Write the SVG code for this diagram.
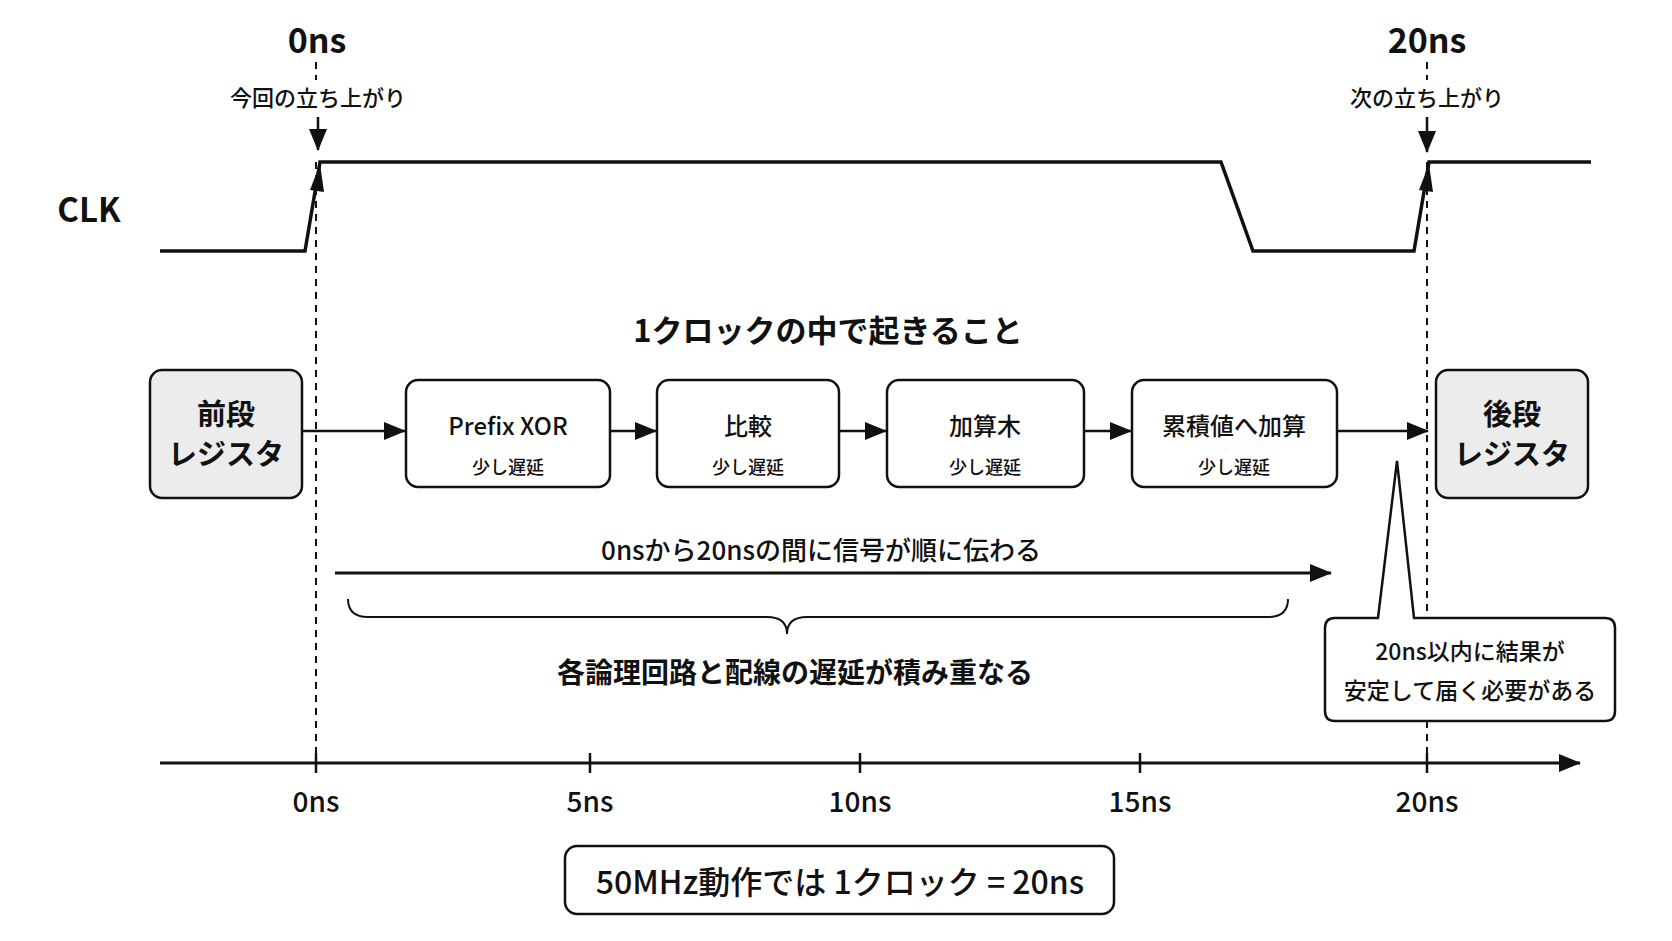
<svg xmlns="http://www.w3.org/2000/svg" width="1672" height="941" viewBox="0 0 1672 941">
<style>
text{font-family:"Noto Sans CJK JP","Noto Sans",sans-serif;fill:#111;text-anchor:middle;dominant-baseline:central;font-weight:500}
.b{font-weight:700}
.box{fill:#fff;stroke:#111;stroke-width:2.5}
.reg{fill:#ececec;stroke:#111;stroke-width:2.5}
.ln{stroke:#111;stroke-width:3.5;fill:none}
.dash{stroke:#111;stroke-width:2;stroke-dasharray:7,6;fill:none}
</style>
<defs>
<marker id="ahs" markerWidth="22" markerHeight="18" refX="21" refY="9" orient="auto" markerUnits="userSpaceOnUse" viewBox="0 0 22 18"><path d="M0,0L22,9L0,18z" fill="#111"/></marker>
</defs>
<rect width="1672" height="941" fill="#fff"/>
<g id="connectors">
<line class="dash" x1="316" y1="62" x2="316" y2="80"/>
<line class="dash" x1="316" y1="162" x2="316" y2="757"/>
<line class="dash" x1="1427" y1="62" x2="1427" y2="80"/>
<line class="dash" x1="1427" y1="162" x2="1427" y2="757"/>
<polyline class="ln" points="160,251 305,251 320,162 1221,162 1253,251 1414,251 1429,162 1591,162"/>
<path d="M310,190 L320,164 L324,192z" fill="#111"/>
<path d="M1419,190 L1429,164 L1433,192z" fill="#111"/>
<line class="ln" x1="318" y1="117" x2="318" y2="150" marker-end="url(#ahs)" style="stroke-width:2.5"/>
<line class="ln" x1="1427" y1="117" x2="1427" y2="152" marker-end="url(#ahs)" style="stroke-width:2.5"/>
<line class="ln" x1="302" y1="431" x2="405" y2="431" marker-end="url(#ahs)" style="stroke-width:2.5"/>
<line class="ln" x1="610" y1="431" x2="656" y2="431" marker-end="url(#ahs)" style="stroke-width:2.5"/>
<line class="ln" x1="839" y1="431" x2="886" y2="431" marker-end="url(#ahs)" style="stroke-width:2.5"/>
<line class="ln" x1="1084" y1="431" x2="1131" y2="431" marker-end="url(#ahs)" style="stroke-width:2.5"/>
<line class="ln" x1="1337" y1="431" x2="1428" y2="431" marker-end="url(#ahs)" style="stroke-width:2.5"/>
<line class="ln" x1="335" y1="573" x2="1331" y2="573" marker-end="url(#ahs)" style="stroke-width:3"/>
<path class="ln" style="stroke-width:2" d="M348,599 Q348,617 368,617 L767,617 Q787,617 787,634 Q787,617 807,617 L1268,617 Q1288,617 1288,599"/>
<line class="ln" x1="160" y1="763" x2="1580" y2="763" marker-end="url(#ahs)" style="stroke-width:3"/>
<g class="ln" style="stroke-width:2.5"><line x1="316" y1="753" x2="316" y2="773"/><line x1="590" y1="753" x2="590" y2="773"/><line x1="860" y1="753" x2="860" y2="773"/><line x1="1140" y1="753" x2="1140" y2="773"/><line x1="1427" y1="753" x2="1427" y2="773"/></g>
</g>
<text class="b" x="317" y="38" font-size="34">0ns</text>
<text class="b" x="1427" y="38" font-size="34">20ns</text>
<text x="318" y="96" font-size="22">今回の立ち上がり</text>
<text x="1427" y="96" font-size="22">次の立ち上がり</text>
<text class="b" x="89" y="208" font-size="33">CLK</text>
<text class="b" x="828" y="328" font-size="31">1クロックの中で起きること</text>
<g id="n_pre"><rect class="reg" x="150" y="370" width="152" height="128" rx="12"/><text class="b" x="226" y="412" font-size="29">前段</text><text class="b" x="226" y="452" font-size="29">レジスタ</text></g>
<g id="n_xor"><rect class="box" x="406" y="380" width="204" height="107" rx="12"/><text x="508" y="424" font-size="24">Prefix XOR</text><text x="508" y="466" font-size="18">少し遅延</text></g>
<g id="n_cmp"><rect class="box" x="657" y="380" width="182" height="107" rx="12"/><text x="748" y="424" font-size="24">比較</text><text x="748" y="466" font-size="18">少し遅延</text></g>
<g id="n_add"><rect class="box" x="887" y="380" width="197" height="107" rx="12"/><text x="985" y="424" font-size="24">加算木</text><text x="985" y="466" font-size="18">少し遅延</text></g>
<g id="n_acc"><rect class="box" x="1132" y="380" width="205" height="107" rx="12"/><text x="1234" y="424" font-size="24">累積値へ加算</text><text x="1234" y="466" font-size="18">少し遅延</text></g>
<g id="n_post"><rect class="reg" x="1436" y="370" width="152" height="128" rx="12"/><text class="b" x="1512" y="412" font-size="29">後段</text><text class="b" x="1512" y="452" font-size="29">レジスタ</text></g>
<text x="821" y="548" font-size="26">0nsから20nsの間に信号が順に伝わる</text>
<text class="b" x="795" y="671" font-size="28">各論理回路と配線の遅延が積み重なる</text>
<g id="n_note"><path d="M1335,618 L1378,618 L1397,461 L1414,618 L1605,618 Q1615,618 1615,628 L1615,711 Q1615,721 1605,721 L1335,721 Q1325,721 1325,711 L1325,628 Q1325,618 1335,618z" fill="#fff" stroke="#111" stroke-width="2.5"/>
<text x="1470" y="650" font-size="23">20ns以内に結果が</text><text x="1470" y="689" font-size="23">安定して届く必要がある</text></g>
<text x="316" y="800" font-size="28">0ns</text><text x="590" y="800" font-size="28">5ns</text><text x="860" y="800" font-size="28">10ns</text><text x="1140" y="800" font-size="28">15ns</text><text x="1427" y="800" font-size="28">20ns</text>
<g id="n_sum"><rect class="box" x="565" y="846" width="549" height="68" rx="12"/><text x="840" y="880" font-size="32">50MHz動作では 1クロック = 20ns</text></g>
</svg>
